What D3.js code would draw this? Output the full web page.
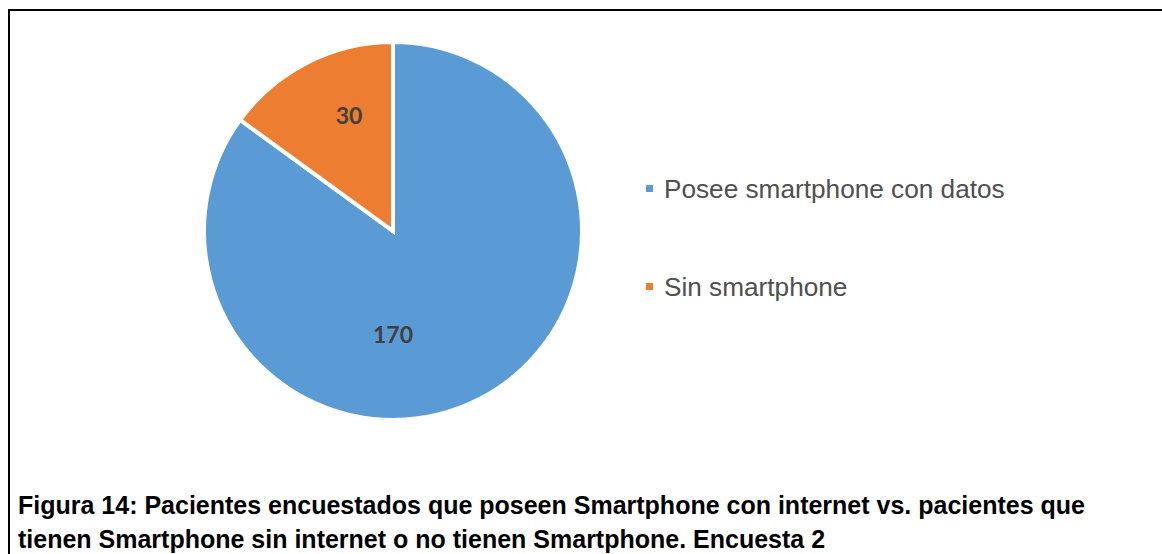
<!DOCTYPE html>
<html>
<head>
<meta charset="utf-8">
<script src="https://cdn.jsdelivr.net/npm/d3@7"></script>
<style>
  html, body { margin: 0; padding: 0; background: #ffffff; }
  svg { display: block; }
</style>
</head>
<body>
<svg id="chart" width="1162" height="554"></svg>
<script>
// Survey 2: smartphone ownership among patients
const categories = ["Posee smartphone con datos", "Sin smartphone"];
const values = [170, 30];
const colors = ["#5B9BD5", "#ED7D31"];
const captionLines = [
  "Figura 14: Pacientes encuestados que poseen Smartphone con internet vs. pacientes que",
  "tienen Smartphone sin internet o no tienen Smartphone. Encuesta 2"
];

const svg = d3.select("#chart");
const W = 1162, H = 554;

// frame around the figure (top and left edges visible)
svg.append("path")
  .attr("d", `M9,${H} V10 H${W}`)
  .attr("fill", "none")
  .attr("stroke", "#000")
  .attr("stroke-width", 2);

const cx = 393, cy = 231, R = 189;

const pie = d3.pie().sort(null).value(d => d.value);
const data = categories.map((c, i) => ({ name: c, value: values[i], color: colors[i] }));
const arcs = pie(data);

const arc = d3.arc().innerRadius(0).outerRadius(R);

const g = svg.append("g").attr("transform", `translate(${cx},${cy})`);

g.selectAll("path.slice")
  .data(arcs)
  .join("path")
  .attr("class", "slice")
  .attr("d", arc)
  .attr("fill", d => d.data.color)
  .attr("stroke", "#fff")
  .attr("stroke-width", 4)
  .attr("stroke-linejoin", "miter");

// data labels: big slice gets its label at the bottom, small slices on their bisector
function labelPos(d) {
  const span = d.endAngle - d.startAngle;
  let a = (d.startAngle + d.endAngle) / 2;
  let r = R * 0.64;
  if (span > Math.PI && d.startAngle <= Math.PI && d.endAngle >= Math.PI) {
    a = Math.PI;
    r = R * 0.56;
  } else {
    a = a + 0.1;
  }
  return [Math.sin(a) * r, -Math.cos(a) * r];
}

g.selectAll("text.lbl")
  .data(arcs)
  .join("text")
  .attr("class", "lbl")
  .attr("x", d => labelPos(d)[0])
  .attr("y", d => labelPos(d)[1] - 2)
  .attr("dy", "0.35em")
  .attr("text-anchor", "middle")
  .attr("font-family", "Lato, 'Open Sans', sans-serif")
  .attr("font-weight", 700)
  .attr("font-size", 23)
  .attr("fill", "#404040")
  .text(d => d.value);

// legend
const legend = svg.append("g").attr("transform", "translate(646,0)");
const rowY = d3.scalePoint().domain(categories).range([189, 287]);
const items = legend.selectAll("g.item")
  .data(data)
  .join("g")
  .attr("class", "item")
  .attr("transform", d => `translate(0,${rowY(d.name)})`);
items.append("rect")
  .attr("x", 0).attr("y", -4)
  .attr("width", 7).attr("height", 7)
  .attr("fill", d => d.color);
items.append("text")
  .attr("x", 18)
  .attr("y", 0)
  .attr("dy", "0.35em")
  .attr("font-family", "'Liberation Sans', Arial, sans-serif")
  .attr("font-size", 26.2)
  .attr("fill", "#4f4f4f")
  .text(d => d.name);

// caption
svg.append("g")
  .selectAll("text")
  .data(captionLines)
  .join("text")
  .attr("x", 18)
  .attr("y", (d, i) => 514 + i * 34)
  .attr("font-family", "'Liberation Sans', Arial, sans-serif")
  .attr("font-weight", 700)
  .attr("font-size", 25)
  .attr("fill", "#000")
  .text(d => d);
</script>
</body>
</html>
